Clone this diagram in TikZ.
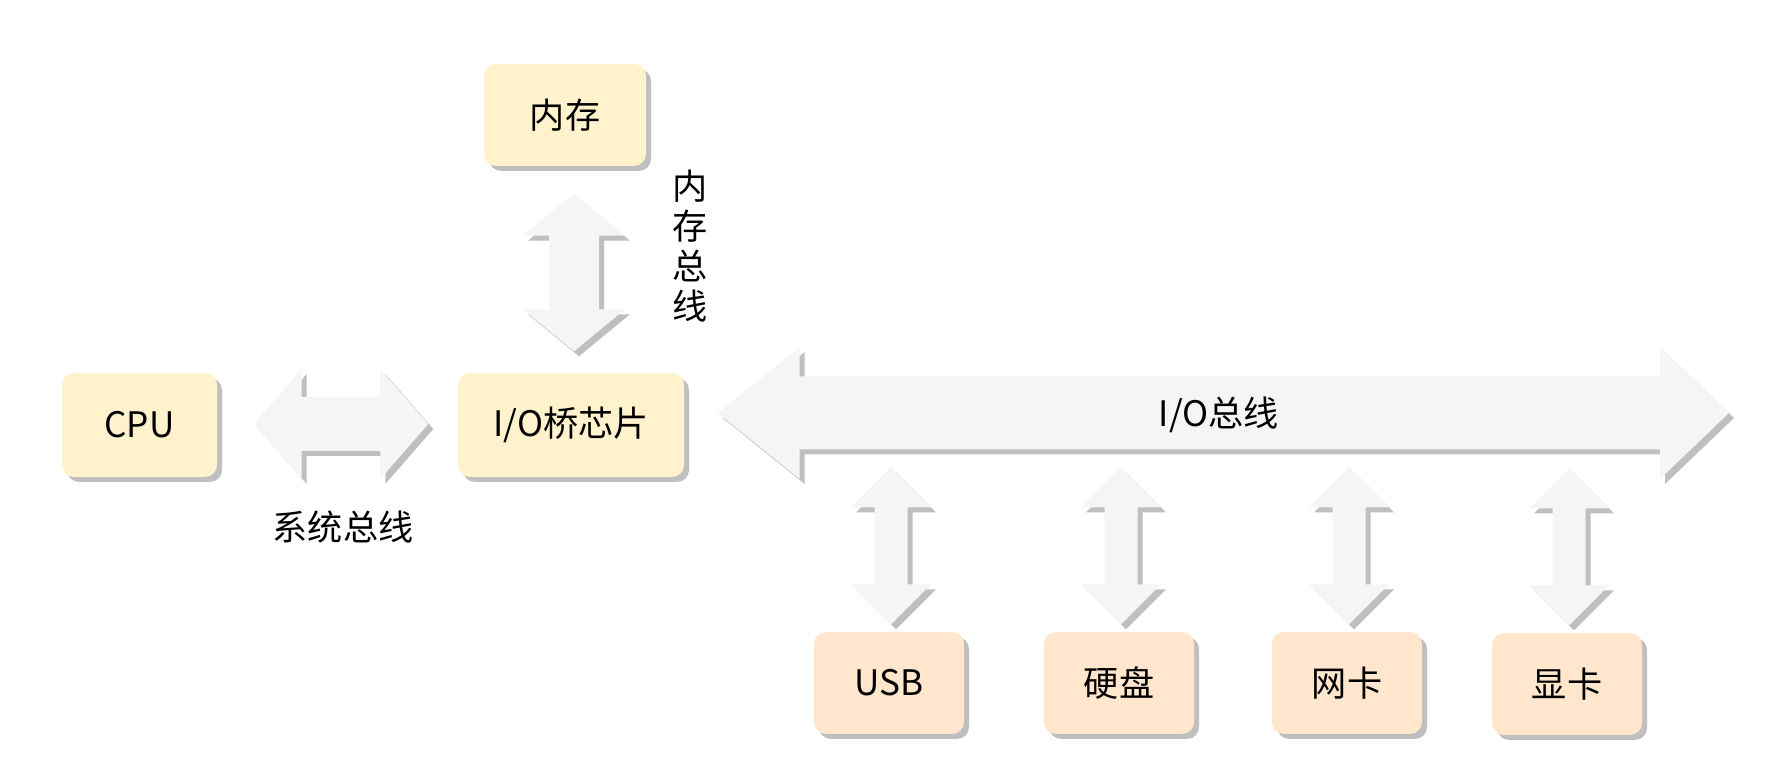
\documentclass[tikz,border=0pt]{standalone}
\usepackage{fontspec}
\setmainfont{Noto Sans CJK SC}
\usetikzlibrary{calc,shadows}

\definecolor{chipfill}{HTML}{FFF2CC}
\definecolor{devfill}{HTML}{FFE6CC}
\definecolor{busfill}{HTML}{F5F5F5}

% block double arrows: tip, tip, shaft half width, head half width, head length(s)
\newcommand{\hbus}[6]{%
  \fill[bus] let \p1=#1, \p2=#2 in
    (\p1) -- (\x1+#5,\y1+#4) -- (\x1+#5,\y1+#3) -- (\x2-#6,\y1+#3)
    -- (\x2-#6,\y1+#4) -- (\x2,\y1) -- (\x2-#6,\y1-#4) -- (\x2-#6,\y1-#3)
    -- (\x1+#5,\y1-#3) -- (\x1+#5,\y1-#4) -- cycle;}
\newcommand{\vbus}[5]{%
  \fill[bus] let \p1=#1, \p2=#2 in
    (\p1) -- (\x1+#4,\y1-#5) -- (\x1+#3,\y1-#5) -- (\x1+#3,\y2+#5)
    -- (\x1+#4,\y2+#5) -- (\x1,\y2) -- (\x1-#4,\y2+#5) -- (\x1-#3,\y2+#5)
    -- (\x1-#3,\y1-#5) -- (\x1-#4,\y1-#5) -- cycle;}

\begin{document}
\begin{tikzpicture}[
  font=\fontsize{10}{12}\selectfont,
  shade/.style={drop shadow={shadow xshift=0.05cm, shadow yshift=-0.05cm, fill=black!25, opacity=1}},
  box/.style={shade, rounded corners=0.12cm, minimum width=1.55cm, minimum height=1.04cm},
  chip/.style={box, fill=chipfill},
  dev/.style={box, fill=devfill, minimum width=1.5cm, minimum height=1.02cm},
  bus/.style={shade, fill=busfill}]
  \useasboundingbox (0,0) rectangle (17.72,-7.66);

  % chips
  \node[chip] (cpu) at (1.395,-4.25) {CPU};
  \node[chip, minimum width=2.26cm] (bridge) at (5.71,-4.25) {I/O桥芯片};
  \node[chip, minimum width=1.62cm, minimum height=1.02cm] (mem) at (5.65,-1.15) {内存};

  % devices
  \node[dev] (usb) at (8.89,-6.83) {USB};
  \node[dev] (disk) at (11.19,-6.83) {硬盘};
  \node[dev] (nic) at (13.47,-6.83) {网卡};
  \node[dev] (gpu) at (15.67,-6.84) {显卡};

  % system bus
  \hbus{($(cpu.east)+(0.36,0.01)$)}{($(bridge.west)+(-0.29,0.01)$)}{0.27cm}{0.55cm}{0.48cm}{0.48cm}
  \node (sysbus) at (3.43,-5.27) {系统总线};

  % memory bus
  \vbus{($(mem.south)+(0.09,-0.27)$)}{($(bridge.north)+(0,0.21)$)}{0.25cm}{0.51cm}{0.42cm}
  \node[align=center, font=\fontsize{10}{11.4}\selectfont] (membus) at (6.90,-2.46) {内\\存\\总\\线};

  % I/O bus
  \coordinate (ioend) at (17.29,-4.13);
  \hbus{($(bridge.east)+(0.33,0.12)$)}{(ioend)}{0.365cm}{0.66cm}{0.82cm}{0.69cm}
  \node (iobus) at (12.19,-4.15) {I/O总线};

  \foreach \d in {usb,disk,nic,gpu}
    \vbus{($(\d.north)+(0.02,1.64)$)}{($(\d.north)+(0,0.07)$)}{0.165cm}{0.40cm}{0.40cm};
\end{tikzpicture}
\end{document}
